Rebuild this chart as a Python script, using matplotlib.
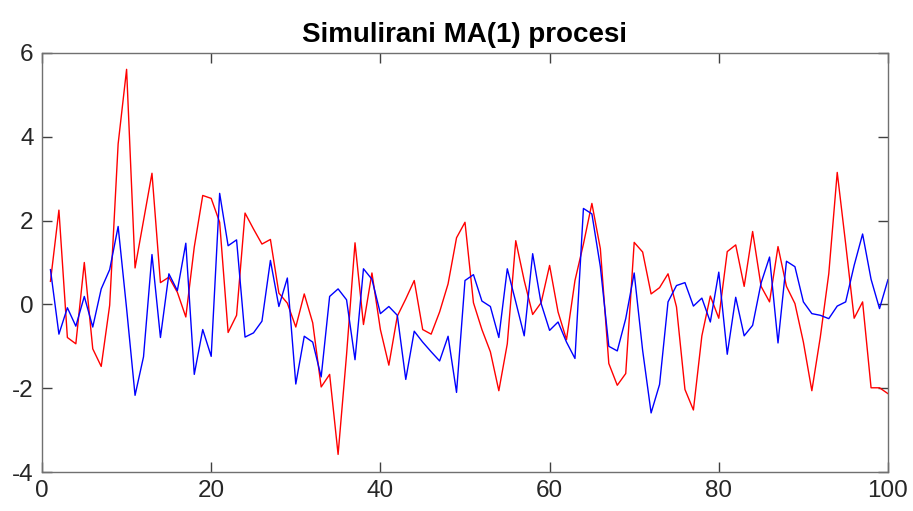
import matplotlib
matplotlib.use("Agg")
import matplotlib.pyplot as plt

# x = 1..100, two simulated MA(1) series
x = list(range(1, 101))

red_series = [
    0.55, 2.25, -0.79, -0.94, 1.0, -1.06, -1.48, -0.02, 3.83, 5.61,
    0.87, 2.0, 3.13, 0.52, 0.65, 0.29, -0.30, 1.37, 2.60, 2.53,
    1.96, -0.67, -0.26, 2.18, 1.80, 1.44, 1.55, 0.27, 0.03, -0.54,
    0.25, -0.44, -1.97, -1.67, -3.58, -1.2, 1.47, -0.48, 0.75, -0.60,
    -1.45, -0.28, 0.13, 0.57, -0.60, -0.71, -0.18, 0.49, 1.59, 1.96,
    0.04, -0.6, -1.13, -2.06, -0.94, 1.52, 0.57, -0.24, 0.04, 0.93,
    -0.18, -0.84, 0.57, 1.44, 2.41, 1.33, -1.41, -1.93, -1.65, 1.48,
    1.25, 0.25, 0.40, 0.73, -0.06, -2.03, -2.52, -0.75, 0.20, -0.33,
    1.26, 1.42, 0.43, 1.74, 0.43, 0.06, 1.38, 0.43, 0.02, -0.90,
    -2.06, -0.78, 0.73, 3.15, 1.44, -0.33, 0.06, -1.99, -1.99, -2.13,
]

blue_series = [
    0.83, -0.71, -0.08, -0.52, 0.19, -0.54, 0.37, 0.83, 1.86, -0.1,
    -2.17, -1.25, 1.19, -0.79, 0.73, 0.33, 1.46, -1.67, -0.60, -1.24,
    2.65, 1.40, 1.54, -0.78, -0.68, -0.40, 1.05, -0.05, 0.63, -1.90,
    -0.76, -0.90, -1.73, 0.19, 0.37, 0.11, -1.32, 0.85, 0.60, -0.22,
    -0.05, -0.26, -1.79, -0.64, -0.90, -1.13, -1.35, -0.76, -2.10, 0.57,
    0.71, 0.08, -0.05, -0.79, 0.85, 0.06, -0.75, 1.21, 0.02, -0.62,
    -0.42, -0.90, -1.29, 2.29, 2.16, 0.9, -1.0, -1.11, -0.34, 0.75,
    -1.10, -2.59, -1.91, 0.06, 0.45, 0.52, -0.04, 0.15, -0.42, 0.77,
    -1.19, 0.17, -0.75, -0.50, 0.51, 1.13, -0.92, 1.03, 0.90, 0.06,
    -0.22, -0.26, -0.34, -0.04, 0.06, 0.93, 1.68, 0.6, -0.10, 0.59,
]

plt.rcParams['font.family'] = ['Liberation Sans', 'DejaVu Sans']
plt.rcParams['axes.unicode_minus'] = False

fig = plt.figure(figsize=(9.13, 5.11), dpi=100)
ax = fig.add_axes([0.046, 0.0763, 0.9266, 0.82])

ax.plot(x, red_series, color='red', linewidth=1.0)
ax.plot(x, blue_series, color='blue', linewidth=1.0)

ax.set_xlim(0, 100)
ax.set_ylim(-4, 6)
ax.set_xticks([0, 20, 40, 60, 80, 100])
ax.set_yticks([-4, -2, 0, 2, 4, 6])

for side in ax.spines.values():
    side.set_color('#707070')
    side.set_linewidth(1.0)
ax.tick_params(direction='in', length=7, width=1, color='#404040',
               labelcolor='#262626', labelsize=17.5, top=True, right=True, pad=6)
ax.set_title('Simulirani MA(1) procesi', fontsize=20, fontweight='bold', pad=8)

fig.savefig('out.png', dpi=100)
